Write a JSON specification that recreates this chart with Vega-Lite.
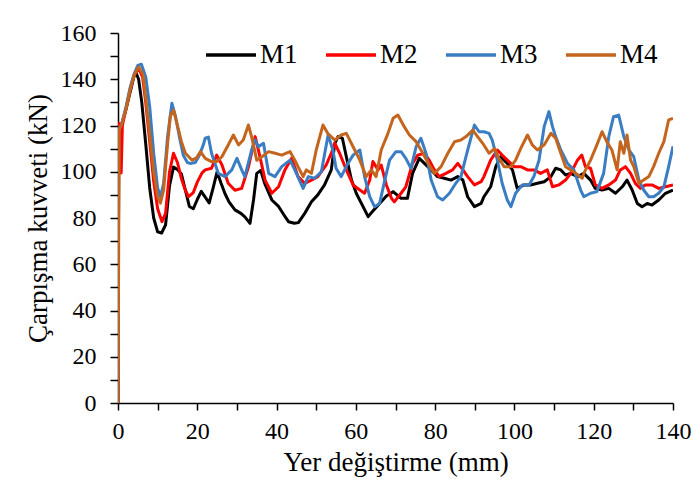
{
"$schema":"https://vega.github.io/schema/vega-lite/v6.json",
"autosize":"none",
"width":555,"height":370,
"padding":{"left":118,"top":33,"right":21,"bottom":86},
"background":"white",
"config":{"view":{"stroke":null},"font":"Liberation Serif"},
"data":{"values":[
{"s":"M1","x":0,"y":0},{"s":"M1","x":0.2,"y":118},{"s":"M1","x":1,"y":121},{"s":"M1","x":2,"y":127},{"s":"M1","x":3,"y":134},{"s":"M1","x":4,"y":141},{"s":"M1","x":4.5,"y":143},{"s":"M1","x":5.2,"y":140},{"s":"M1","x":6,"y":130},{"s":"M1","x":7,"y":112},{"s":"M1","x":8,"y":93},{"s":"M1","x":9,"y":80},{"s":"M1","x":10,"y":74},{"s":"M1","x":11,"y":73.5},{"s":"M1","x":12,"y":77},{"s":"M1","x":13,"y":94},{"s":"M1","x":14,"y":102},{"s":"M1","x":15,"y":101},{"s":"M1","x":16,"y":99},{"s":"M1","x":17,"y":92},{"s":"M1","x":18,"y":85},{"s":"M1","x":19,"y":84},{"s":"M1","x":20,"y":88},{"s":"M1","x":21,"y":91.5},{"s":"M1","x":22,"y":89},{"s":"M1","x":23,"y":86.5},{"s":"M1","x":24,"y":93},{"s":"M1","x":25,"y":100},{"s":"M1","x":26,"y":95},{"s":"M1","x":27,"y":90.5},{"s":"M1","x":28,"y":87},{"s":"M1","x":29.5,"y":83.5},{"s":"M1","x":31,"y":82},{"s":"M1","x":32,"y":80.5},{"s":"M1","x":33.3,"y":77.7},{"s":"M1","x":34.2,"y":88},{"s":"M1","x":35,"y":99.3},{"s":"M1","x":36,"y":100.5},{"s":"M1","x":37,"y":95},{"s":"M1","x":38.8,"y":87.8},{"s":"M1","x":40.5,"y":85},{"s":"M1","x":42,"y":81},{"s":"M1","x":43,"y":78.4},{"s":"M1","x":44.5,"y":77.7},{"s":"M1","x":45.5,"y":78},{"s":"M1","x":47.1,"y":82},{"s":"M1","x":48.8,"y":87},{"s":"M1","x":50.4,"y":90},{"s":"M1","x":52.1,"y":94.3},{"s":"M1","x":53.8,"y":100.8},{"s":"M1","x":54.7,"y":112.3},{"s":"M1","x":55.5,"y":115.2},{"s":"M1","x":56.6,"y":114.5},{"s":"M1","x":57.6,"y":106.5},{"s":"M1","x":58.9,"y":96.4},{"s":"M1","x":60.1,"y":90.7},{"s":"M1","x":61.4,"y":86.3},{"s":"M1","x":63.1,"y":80.6},{"s":"M1","x":64.3,"y":83},{"s":"M1","x":66,"y":86.3},{"s":"M1","x":67.7,"y":89.5},{"s":"M1","x":69.4,"y":91.4},{"s":"M1","x":71.4,"y":88.5},{"s":"M1","x":73,"y":88.5},{"s":"M1","x":74.3,"y":99.3},{"s":"M1","x":76,"y":105.8},{"s":"M1","x":77.3,"y":103.6},{"s":"M1","x":79,"y":100.8},{"s":"M1","x":80.6,"y":97.9},{"s":"M1","x":82.3,"y":97.2},{"s":"M1","x":84,"y":96.4},{"s":"M1","x":85.7,"y":97.9},{"s":"M1","x":87,"y":96.4},{"s":"M1","x":88.2,"y":89.2},{"s":"M1","x":89.9,"y":84.9},{"s":"M1","x":91.6,"y":86.3},{"s":"M1","x":92.3,"y":89.2},{"s":"M1","x":94,"y":93.5},{"s":"M1","x":95.3,"y":102.2},{"s":"M1","x":96.5,"y":106.5},{"s":"M1","x":98.2,"y":103.6},{"s":"M1","x":99.5,"y":100.8},{"s":"M1","x":100.7,"y":92.8},{"s":"M1","x":102.4,"y":94.3},{"s":"M1","x":104.1,"y":94.3},{"s":"M1","x":105.8,"y":95},{"s":"M1","x":107.5,"y":95.7},{"s":"M1","x":109.2,"y":97.9},{"s":"M1","x":110.4,"y":101.5},{"s":"M1","x":111.7,"y":100.8},{"s":"M1","x":112.9,"y":98.6},{"s":"M1","x":114.2,"y":99.3},{"s":"M1","x":115.9,"y":97.9},{"s":"M1","x":117.5,"y":99.3},{"s":"M1","x":119.2,"y":96.4},{"s":"M1","x":120.4,"y":92.8},{"s":"M1","x":122.1,"y":92.1},{"s":"M1","x":123.8,"y":92.8},{"s":"M1","x":125.5,"y":90.7},{"s":"M1","x":127.2,"y":93.5},{"s":"M1","x":128.4,"y":96.4},{"s":"M1","x":129.7,"y":92.1},{"s":"M1","x":131,"y":86.3},{"s":"M1","x":132.2,"y":84.9},{"s":"M1","x":133.5,"y":86.3},{"s":"M1","x":134.7,"y":85.6},{"s":"M1","x":136.4,"y":87.8},{"s":"M1","x":138.1,"y":90.7},{"s":"M1","x":140,"y":92.1},
{"s":"M2","x":0,"y":0},{"s":"M2","x":0.15,"y":121},{"s":"M2","x":0.5,"y":110},{"s":"M2","x":0.8,"y":99.5},{"s":"M2","x":1.1,"y":120},{"s":"M2","x":2,"y":127},{"s":"M2","x":3,"y":135},{"s":"M2","x":4,"y":141.5},{"s":"M2","x":5.2,"y":144.8},{"s":"M2","x":6.2,"y":141},{"s":"M2","x":7,"y":130},{"s":"M2","x":8,"y":113},{"s":"M2","x":9,"y":96},{"s":"M2","x":10,"y":84},{"s":"M2","x":11.1,"y":78.4},{"s":"M2","x":12,"y":82},{"s":"M2","x":13,"y":100},{"s":"M2","x":14,"y":108},{"s":"M2","x":15,"y":104},{"s":"M2","x":16,"y":97},{"s":"M2","x":17,"y":92},{"s":"M2","x":17.8,"y":89.2},{"s":"M2","x":19,"y":91},{"s":"M2","x":20,"y":95.5},{"s":"M2","x":21.2,"y":99.5},{"s":"M2","x":22,"y":100.8},{"s":"M2","x":23.6,"y":101.5},{"s":"M2","x":24.9,"y":107.2},{"s":"M2","x":26.2,"y":103},{"s":"M2","x":27.8,"y":95},{"s":"M2","x":29.5,"y":92},{"s":"M2","x":31.2,"y":92.8},{"s":"M2","x":32.9,"y":102},{"s":"M2","x":34.6,"y":115.2},{"s":"M2","x":35.8,"y":106.5},{"s":"M2","x":37.1,"y":96.4},{"s":"M2","x":38.8,"y":90.7},{"s":"M2","x":40.5,"y":93.5},{"s":"M2","x":42.1,"y":100.8},{"s":"M2","x":43.8,"y":105.8},{"s":"M2","x":45.4,"y":97.9},{"s":"M2","x":47.1,"y":95},{"s":"M2","x":48.8,"y":96.4},{"s":"M2","x":50.4,"y":97.9},{"s":"M2","x":52.5,"y":102.9},{"s":"M2","x":53.8,"y":108},{"s":"M2","x":54.7,"y":112.3},{"s":"M2","x":55.9,"y":108},{"s":"M2","x":57.6,"y":100.8},{"s":"M2","x":59.3,"y":94.3},{"s":"M2","x":61,"y":92.1},{"s":"M2","x":62.2,"y":90.7},{"s":"M2","x":63.5,"y":96.4},{"s":"M2","x":64.3,"y":104.4},{"s":"M2","x":65.6,"y":100.8},{"s":"M2","x":66.4,"y":102.9},{"s":"M2","x":67.7,"y":94.3},{"s":"M2","x":69,"y":88.5},{"s":"M2","x":69.7,"y":87},{"s":"M2","x":71.4,"y":90.7},{"s":"M2","x":72.6,"y":93.5},{"s":"M2","x":74.3,"y":103.6},{"s":"M2","x":75.6,"y":107.2},{"s":"M2","x":77.3,"y":108},{"s":"M2","x":78.5,"y":105},{"s":"M2","x":79.8,"y":100.8},{"s":"M2","x":81,"y":97.9},{"s":"M2","x":82.7,"y":99.3},{"s":"M2","x":84.4,"y":100.8},{"s":"M2","x":85.7,"y":103.6},{"s":"M2","x":87,"y":100.8},{"s":"M2","x":88.2,"y":97.9},{"s":"M2","x":89.9,"y":94.3},{"s":"M2","x":91.6,"y":95.7},{"s":"M2","x":92.3,"y":97.9},{"s":"M2","x":94,"y":105},{"s":"M2","x":95.7,"y":109.4},{"s":"M2","x":96.9,"y":107.2},{"s":"M2","x":98.2,"y":105},{"s":"M2","x":99.9,"y":102.2},{"s":"M2","x":101.6,"y":102.2},{"s":"M2","x":103.3,"y":100.8},{"s":"M2","x":104.9,"y":100.8},{"s":"M2","x":106.6,"y":99.3},{"s":"M2","x":108.3,"y":100.8},{"s":"M2","x":109.6,"y":93.5},{"s":"M2","x":111.2,"y":94.3},{"s":"M2","x":112.9,"y":96.4},{"s":"M2","x":114.2,"y":99.3},{"s":"M2","x":115.9,"y":105},{"s":"M2","x":117,"y":107.2},{"s":"M2","x":117.9,"y":102.2},{"s":"M2","x":119.2,"y":101.5},{"s":"M2","x":120.4,"y":94.3},{"s":"M2","x":122.1,"y":92.8},{"s":"M2","x":123.8,"y":94.3},{"s":"M2","x":125.5,"y":96.4},{"s":"M2","x":126.7,"y":100.8},{"s":"M2","x":128,"y":102.2},{"s":"M2","x":129.3,"y":99.3},{"s":"M2","x":130.5,"y":95},{"s":"M2","x":131.8,"y":92.8},{"s":"M2","x":133,"y":94.3},{"s":"M2","x":134.7,"y":94.3},{"s":"M2","x":136.4,"y":92.8},{"s":"M2","x":138.1,"y":93.5},{"s":"M2","x":140,"y":94.3},
{"s":"M3","x":0,"y":0},{"s":"M3","x":0.2,"y":118},{"s":"M3","x":1,"y":121},{"s":"M3","x":2,"y":128},{"s":"M3","x":3,"y":136},{"s":"M3","x":4,"y":142},{"s":"M3","x":5,"y":146},{"s":"M3","x":5.9,"y":146.5},{"s":"M3","x":7,"y":141},{"s":"M3","x":8,"y":128},{"s":"M3","x":9,"y":108},{"s":"M3","x":10,"y":93},{"s":"M3","x":10.7,"y":89.2},{"s":"M3","x":11.5,"y":95},{"s":"M3","x":12.5,"y":115},{"s":"M3","x":13.6,"y":129.6},{"s":"M3","x":14.5,"y":124},{"s":"M3","x":15.5,"y":115},{"s":"M3","x":16.5,"y":107},{"s":"M3","x":17.5,"y":104},{"s":"M3","x":18.2,"y":103.6},{"s":"M3","x":19.5,"y":104},{"s":"M3","x":20.5,"y":107},{"s":"M3","x":21.5,"y":111.5},{"s":"M3","x":22,"y":114.5},{"s":"M3","x":22.8,"y":115},{"s":"M3","x":23.6,"y":108},{"s":"M3","x":25.3,"y":99.3},{"s":"M3","x":27,"y":97.9},{"s":"M3","x":28.7,"y":100.8},{"s":"M3","x":30,"y":105.8},{"s":"M3","x":31.2,"y":100.8},{"s":"M3","x":32,"y":97.9},{"s":"M3","x":33.7,"y":109.4},{"s":"M3","x":34.6,"y":113.7},{"s":"M3","x":35.4,"y":110.8},{"s":"M3","x":36.7,"y":112.3},{"s":"M3","x":38,"y":99.3},{"s":"M3","x":39.6,"y":97.9},{"s":"M3","x":41.3,"y":102.2},{"s":"M3","x":43.4,"y":105},{"s":"M3","x":44.6,"y":100.8},{"s":"M3","x":46.3,"y":94.3},{"s":"M3","x":46.7,"y":92.8},{"s":"M3","x":48,"y":97.9},{"s":"M3","x":49.6,"y":97.2},{"s":"M3","x":51.3,"y":100},{"s":"M3","x":53,"y":115.9},{"s":"M3","x":54.2,"y":109.4},{"s":"M3","x":55,"y":101.5},{"s":"M3","x":56.3,"y":97.9},{"s":"M3","x":58,"y":103.6},{"s":"M3","x":59.3,"y":107.2},{"s":"M3","x":61,"y":109.4},{"s":"M3","x":62.2,"y":97.9},{"s":"M3","x":63.5,"y":89.2},{"s":"M3","x":64.7,"y":84.9},{"s":"M3","x":66,"y":86.3},{"s":"M3","x":67.3,"y":96.4},{"s":"M3","x":68.5,"y":105},{"s":"M3","x":70.1,"y":108.7},{"s":"M3","x":71.4,"y":108.7},{"s":"M3","x":72.6,"y":105.8},{"s":"M3","x":73.9,"y":101.5},{"s":"M3","x":75.2,"y":110.8},{"s":"M3","x":76.4,"y":114.5},{"s":"M3","x":77.7,"y":108},{"s":"M3","x":79,"y":96.4},{"s":"M3","x":80.6,"y":89.2},{"s":"M3","x":81.9,"y":87.8},{"s":"M3","x":83.6,"y":90.7},{"s":"M3","x":85.2,"y":95},{"s":"M3","x":86.5,"y":97.9},{"s":"M3","x":88.2,"y":109.4},{"s":"M3","x":89.9,"y":120.2},{"s":"M3","x":91.1,"y":117.3},{"s":"M3","x":92.3,"y":117.3},{"s":"M3","x":93.6,"y":116.6},{"s":"M3","x":94.4,"y":113.7},{"s":"M3","x":95.7,"y":105},{"s":"M3","x":96.9,"y":95},{"s":"M3","x":98.2,"y":87.8},{"s":"M3","x":99.1,"y":84.9},{"s":"M3","x":100.3,"y":90.7},{"s":"M3","x":102,"y":94.3},{"s":"M3","x":103.7,"y":94.3},{"s":"M3","x":104.9,"y":97.9},{"s":"M3","x":106.2,"y":105},{"s":"M3","x":107.5,"y":119.5},{"s":"M3","x":108.7,"y":126},{"s":"M3","x":109.6,"y":119.5},{"s":"M3","x":110.4,"y":115.2},{"s":"M3","x":111.7,"y":109.4},{"s":"M3","x":113.4,"y":103.6},{"s":"M3","x":115,"y":100.8},{"s":"M3","x":116.7,"y":92.1},{"s":"M3","x":117.5,"y":89.2},{"s":"M3","x":119.2,"y":90.7},{"s":"M3","x":120.8,"y":91.4},{"s":"M3","x":122.5,"y":99.3},{"s":"M3","x":123.8,"y":115.2},{"s":"M3","x":125,"y":123.8},{"s":"M3","x":126.3,"y":124.5},{"s":"M3","x":127.6,"y":115.2},{"s":"M3","x":128.9,"y":109.4},{"s":"M3","x":130.1,"y":106.5},{"s":"M3","x":131.4,"y":96.4},{"s":"M3","x":132.6,"y":92.1},{"s":"M3","x":133.9,"y":89.2},{"s":"M3","x":135.1,"y":89.2},{"s":"M3","x":136.4,"y":90.7},{"s":"M3","x":137.7,"y":93.5},{"s":"M3","x":138.9,"y":102.2},{"s":"M3","x":140,"y":111},
{"s":"M4","x":0,"y":0},{"s":"M4","x":0.3,"y":118},{"s":"M4","x":1,"y":121},{"s":"M4","x":2,"y":127},{"s":"M4","x":3,"y":135},{"s":"M4","x":4,"y":141.5},{"s":"M4","x":5.2,"y":145.4},{"s":"M4","x":6.3,"y":142},{"s":"M4","x":7,"y":132},{"s":"M4","x":8,"y":116},{"s":"M4","x":9,"y":100},{"s":"M4","x":10,"y":89},{"s":"M4","x":10.7,"y":86.4},{"s":"M4","x":11.5,"y":92},{"s":"M4","x":12.5,"y":112},{"s":"M4","x":13.2,"y":124},{"s":"M4","x":14,"y":126.7},{"s":"M4","x":15,"y":120},{"s":"M4","x":16,"y":113},{"s":"M4","x":17,"y":108},{"s":"M4","x":18.7,"y":105},{"s":"M4","x":19.8,"y":106},{"s":"M4","x":20.8,"y":108.7},{"s":"M4","x":22,"y":105.8},{"s":"M4","x":23.6,"y":104.4},{"s":"M4","x":24.9,"y":104.4},{"s":"M4","x":26.2,"y":106.5},{"s":"M4","x":27.8,"y":111.6},{"s":"M4","x":29.1,"y":115.9},{"s":"M4","x":30.4,"y":111.6},{"s":"M4","x":31.6,"y":113.7},{"s":"M4","x":32.9,"y":120.2},{"s":"M4","x":33.7,"y":115.2},{"s":"M4","x":35,"y":105},{"s":"M4","x":36.3,"y":106.5},{"s":"M4","x":38,"y":108.7},{"s":"M4","x":39.6,"y":108},{"s":"M4","x":41.3,"y":107.2},{"s":"M4","x":43.4,"y":108.7},{"s":"M4","x":44.6,"y":105},{"s":"M4","x":45.4,"y":102.2},{"s":"M4","x":46.7,"y":97.9},{"s":"M4","x":47.5,"y":100.8},{"s":"M4","x":48.8,"y":99.3},{"s":"M4","x":50,"y":109.4},{"s":"M4","x":51.7,"y":120.2},{"s":"M4","x":52.9,"y":116.6},{"s":"M4","x":54.7,"y":113.7},{"s":"M4","x":56.3,"y":115.9},{"s":"M4","x":57.6,"y":116.6},{"s":"M4","x":59.3,"y":110.8},{"s":"M4","x":61,"y":105},{"s":"M4","x":62.6,"y":97.9},{"s":"M4","x":63.9,"y":100.8},{"s":"M4","x":65.1,"y":97.9},{"s":"M4","x":66.4,"y":109.4},{"s":"M4","x":68.1,"y":116.6},{"s":"M4","x":69.4,"y":123.1},{"s":"M4","x":70.6,"y":124.5},{"s":"M4","x":72.2,"y":119.5},{"s":"M4","x":73.5,"y":115.9},{"s":"M4","x":75.2,"y":113},{"s":"M4","x":76.9,"y":108},{"s":"M4","x":78.5,"y":102.9},{"s":"M4","x":79.8,"y":99.3},{"s":"M4","x":81.5,"y":102.2},{"s":"M4","x":83.2,"y":108},{"s":"M4","x":84.9,"y":113},{"s":"M4","x":86.5,"y":113.7},{"s":"M4","x":87.8,"y":115.2},{"s":"M4","x":89.5,"y":118},{"s":"M4","x":90.7,"y":115.2},{"s":"M4","x":92,"y":112.3},{"s":"M4","x":93.6,"y":108},{"s":"M4","x":95,"y":110},{"s":"M4","x":96.1,"y":105.8},{"s":"M4","x":97.4,"y":102.2},{"s":"M4","x":99.1,"y":102.2},{"s":"M4","x":100.3,"y":105},{"s":"M4","x":101.6,"y":110.1},{"s":"M4","x":103.3,"y":115.9},{"s":"M4","x":104.5,"y":111.6},{"s":"M4","x":105.8,"y":109.4},{"s":"M4","x":107.5,"y":111.6},{"s":"M4","x":109.2,"y":116.6},{"s":"M4","x":110.4,"y":114.5},{"s":"M4","x":111.7,"y":108},{"s":"M4","x":112.9,"y":102.2},{"s":"M4","x":114.2,"y":100.8},{"s":"M4","x":115.5,"y":99.3},{"s":"M4","x":117.1,"y":97.2},{"s":"M4","x":117.5,"y":99.3},{"s":"M4","x":119.2,"y":105},{"s":"M4","x":120.8,"y":111.6},{"s":"M4","x":122.1,"y":117.3},{"s":"M4","x":123.3,"y":113},{"s":"M4","x":124.6,"y":109.4},{"s":"M4","x":125.9,"y":100.8},{"s":"M4","x":126.7,"y":113},{"s":"M4","x":127.6,"y":108},{"s":"M4","x":128.4,"y":115.9},{"s":"M4","x":129.3,"y":105},{"s":"M4","x":130.1,"y":102.2},{"s":"M4","x":131.4,"y":95},{"s":"M4","x":132.6,"y":96.4},{"s":"M4","x":133.9,"y":97.9},{"s":"M4","x":135.1,"y":102.2},{"s":"M4","x":136.4,"y":108},{"s":"M4","x":137.7,"y":113},{"s":"M4","x":138.9,"y":122.4},{"s":"M4","x":140,"y":123.1}
]},
"mark":{"type":"line","strokeWidth":3,"strokeJoin":"round","clip":true},
"encoding":{
"x":{"field":"x","type":"quantitative","scale":{"domain":[0,140],"nice":false,"zero":false},
 "axis":{"title":"Yer değiştirme (mm)","values":[0,10,20,30,40,50,60,70,80,90,100,110,120,130,140],"labelExpr":"datum.value % 20 == 0 ? datum.label : ''","grid":false,"domainColor":"black","domainWidth":1.5,"tickColor":"black","tickWidth":1.5,"tickSize":7,"labelFont":"Liberation Serif","labelFontSize":24,"labelColor":"black","labelPadding":9,"labelFlush":false,"labelOverlap":false,"titleFont":"Liberation Serif","titleFontSize":27,"titleFontWeight":"normal","titleColor":"black","titlePadding":6}},
"y":{"field":"y","type":"quantitative","scale":{"domain":[0,160],"nice":false},
 "axis":{"title":"Çarpışma kuvveti (kN)","values":[0,10,20,30,40,50,60,70,80,90,100,110,120,130,140,150,160],"labelExpr":"datum.value % 20 == 0 ? datum.label : ''","grid":false,"domainColor":"black","domainWidth":1.5,"tickColor":"black","tickWidth":1.5,"tickSize":8,"labelFont":"Liberation Serif","labelFontSize":24,"labelColor":"black","labelPadding":14,"labelFlush":false,"labelOverlap":false,"titleFont":"Liberation Serif","titleFontSize":27,"titleFontWeight":"normal","titleColor":"black","titlePadding":8}},
"color":{"field":"s","type":"nominal","scale":{"domain":["M1","M2","M3","M4"],"range":["#000000","#FF0000","#3A7DC2","#C4651E"]},
 "legend":{"title":null,"orient":"none","direction":"horizontal","legendX":86,"legendY":-5,"symbolType":"stroke","symbolSize":2500,"symbolStrokeWidth":3.5,"labelFont":"Liberation Serif","labelFontSize":27,"labelColor":"black","labelOffset":2,"columnPadding":21}}
}
}
